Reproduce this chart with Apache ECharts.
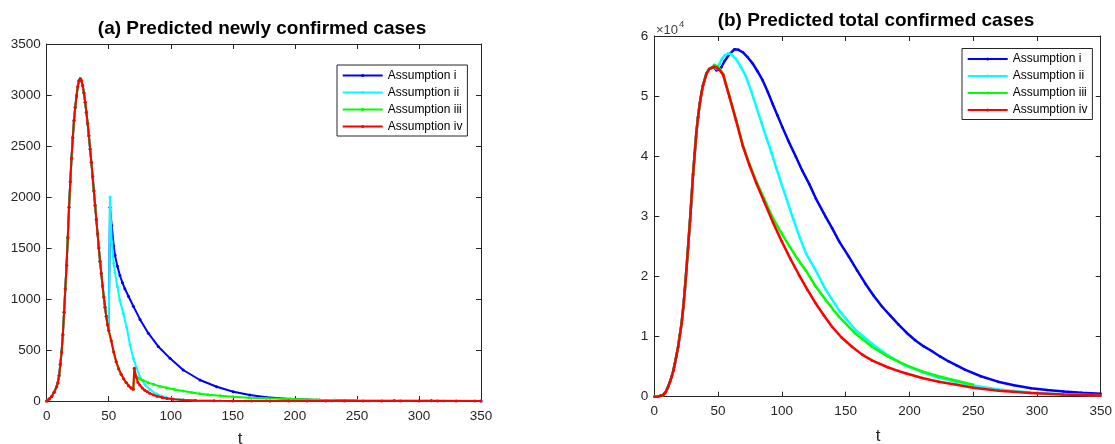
<!DOCTYPE html>
<html><head><meta charset="utf-8">
<script src="https://cdn.jsdelivr.net/npm/echarts@6/dist/echarts.min.js"></script>
<style>html,body{margin:0;padding:0;background:#fff}#c{width:1115px;height:444px}</style>
</head><body><div id="c"></div>
<script>
// ---------- data ----------
const seriesNames = ['Assumption i', 'Assumption ii', 'Assumption iii', 'Assumption iv'];
const xTicks = [0, 50, 100, 150, 200, 250, 300, 350];

// (a) newly confirmed cases: shared early part (t = 0..50)
const newT_early = [0,2,4,6,8,9,10,11,12,13,14,15,16,17,18,19,20,21,22,23,24,25,26,27,28,29,30,31,32,33,34,35,36,37,38,39,40,41,42,43,44,45,46,47,48,49,50];
const newV_early = [0,20,45,85,140,180,250,360,480,650,870,1100,1330,1600,1900,2150,2380,2580,2750,2880,2990,3080,3140,3160,3140,3090,3020,2930,2830,2720,2600,2470,2340,2200,2060,1920,1780,1640,1500,1370,1250,1130,1020,920,830,750,690];
// (a) after t = 50
const newT_i = [51,52.4,54,55,57,59,61,63,66,69.8,75.2,81.9,89.9,99.4,110,123.5,137,150.4,163.8,177,196,220,250,280,310,350];
const newV_i = [1900,1720,1520,1430,1320,1230,1160,1100,1025,930,800,665,535,418,304,206,140,91,59,37,20,10,5,3,2,1];
const newT_ii = [51,52.4,54,55,57,59,61.7,64.5,67.1,69.8,72.5,75.2,79.2,83.2,88.6,96.7,107,120,140,160,180,200,230,260,290,320,350];
const newV_ii = [2000,1560,1350,1260,1120,985,860,720,550,420,320,235,160,110,68,33,15,6,2,1,0.5,0,0,0,0,0,0];
const newT_iii = [52,54,56,58,60,62,64,66,68,69.8,70.6,72,73.5,75,77.8,82,86,91,96.5,103,110,117,123.5,130,140,150,163,177,190,204,218,232,250];
const newV_iii = [590,480,385,315,262,218,182,150,128,114,320,245,225,215,200,180,163,145,130,113,98,84,72,62,51,42,33,26,21,17,13,10,7];
const newT_iv = [52,54,56,58,60,62,64,66,68,69.8,70.6,72,73.5,75,77,79,81,83,86,89,93,97,102,110,120,135,150,165,180,195,210,225,240,255,270,285,300,315,330,345,350];
const newV_iv = [590,480,385,315,262,218,182,150,128,114,320,235,185,157,128,106,90,77,60,47,34,25,17,10,5,2,1,0.5,0,0,0,0,0,0,0,0,0,0,0,0,0];

// (b) total confirmed cases (x 10^4): shared early part
const totT_early = [0,3,5,7,9,10.9,12.3,13.6,15,16.1,17.4,18.7,20,21.4,22.7,23.9,25.2,26.5,28.4,30.4,31.7,33,34.3,35.6,36.9,38.2,40.8,43,45];
const totV_early = [0,0.005,0.015,0.03,0.08,0.17,0.25,0.33,0.44,0.55,0.69,0.83,1.02,1.22,1.48,1.77,2.12,2.49,3.05,3.70,4.05,4.40,4.65,4.87,5.04,5.18,5.37,5.45,5.47];
const totT_i = [47,48.6,50.5,52.5,55,59,62.9,66,69.4,73,77.2,81,85,89,92.8,96.5,100.5,105,111,116,121.4,126.6,134.4,139.5,145,152.5,159,165.5,172,178.5,185,191.5,198,204.5,211,217.5,224,230.5,237,243.5,256,269.4,282,295.4,308,321,335,350];
const totV_i = [5.48,5.43,5.44,5.48,5.58,5.70,5.78,5.77,5.73,5.65,5.54,5.41,5.26,5.07,4.87,4.68,4.48,4.26,3.99,3.76,3.54,3.30,2.99,2.80,2.58,2.33,2.10,1.88,1.68,1.50,1.35,1.20,1.06,0.94,0.84,0.76,0.67,0.59,0.52,0.45,0.34,0.25,0.19,0.14,0.11,0.085,0.065,0.05];
const totT_ii = [47,49,51.2,53,55,57.7,60,64,68,72,76,80,84,88,92,96,100,104,109,114,119,126,134.4,144.7,157.7,170.7,183,196.7,210,222.7,236,250,270,295,320,350];
const totV_ii = [5.49,5.45,5.54,5.62,5.67,5.71,5.70,5.62,5.48,5.32,5.08,4.82,4.56,4.30,4.05,3.78,3.52,3.27,2.95,2.65,2.38,2.12,1.78,1.44,1.11,0.88,0.69,0.52,0.41,0.32,0.25,0.185,0.12,0.07,0.04,0.025];
const totT_iii = [47,49,51,54,59,64,69.4,74.6,80,86,93,100,106,112,118.8,126,134.4,144.7,157.7,170.7,183,196.7,210,222.7,236,250];
const totV_iii = [5.52,5.50,5.46,5.37,5.00,4.62,4.19,3.87,3.58,3.30,2.97,2.71,2.50,2.30,2.10,1.85,1.61,1.33,1.05,0.83,0.67,0.53,0.42,0.34,0.27,0.20];
const totT_iv = [47,49,51,54,59,64,69.4,74.6,80,86,93,100,107,113.6,120,126.6,133,139.5,147,155,163,171,183,191,197,210,223,237,250,270,295,320,350];
const totV_iv = [5.49,5.47,5.44,5.35,4.98,4.60,4.17,3.85,3.55,3.25,2.90,2.58,2.28,2.02,1.78,1.55,1.35,1.16,0.98,0.83,0.70,0.60,0.49,0.43,0.39,0.31,0.25,0.20,0.15,0.10,0.06,0.035,0.02];

// ---------- build ----------
const FONT = '"Liberation Sans", Arial, Helvetica, sans-serif';
const AX = '#262626';
const colors = ['#0000ff', '#00ffff', '#00ff00', '#ff0000'];
function pairs(t, v) { return t.map((x, i) => [x, v[i]]); }
function withEarly(tE, vE, t, v) { return pairs(tE, vE).concat(pairs(t, v)); }

const newData = [
  withEarly(newT_early, newV_early, newT_i, newV_i),
  withEarly(newT_early, newV_early, newT_ii, newV_ii),
  withEarly(newT_early, newV_early, newT_iii, newV_iii),
  withEarly(newT_early, newV_early, newT_iv, newV_iv)
];
const totData = [
  withEarly(totT_early, totV_early, totT_i, totV_i),
  withEarly(totT_early, totV_early, totT_ii, totV_ii),
  withEarly(totT_early, totV_early, totT_iii, totV_iii),
  withEarly(totT_early, totV_early, totT_iv, totV_iv)
];

function mkX(g, pos, labels) {
  return {
    type: 'value', gridIndex: g, position: pos, min: xTicks[0], max: xTicks[xTicks.length - 1], interval: 50,
    axisLine: { show: true, onZero: false, lineStyle: { color: AX, width: 1 } },
    axisTick: { show: true, inside: true, length: 5, lineStyle: { color: AX } },
    axisLabel: { show: labels, color: AX, fontSize: 13.5, margin: 8, fontFamily: FONT },
    splitLine: { show: false }
  };
}
function mkY(g, pos, labels, max, interval) {
  return {
    type: 'value', gridIndex: g, position: pos, min: 0, max: max, interval: interval,
    axisLine: { show: true, onZero: false, lineStyle: { color: AX, width: 1 } },
    axisTick: { show: true, inside: true, length: 5, lineStyle: { color: AX } },
    axisLabel: { show: labels, color: AX, fontSize: 13.5, margin: 6, fontFamily: FONT, formatter: v => String(v) },
    splitLine: { show: false }
  };
}
function mkSeries(data, i, xi, yi, sym, width) {
  return {
    type: 'line', name: seriesNames[i], xAxisIndex: xi, yAxisIndex: yi, data: data,
    symbol: 'circle', symbolSize: sym, showSymbol: true, showAllSymbol: true,
    smooth: false,
    lineStyle: { width: width, color: colors[i] }, itemStyle: { color: colors[i] },
    z: 2 + i, silent: true, animation: false
  };
}
function mkLegend(left, top) {
  return {
    data: seriesNames, orient: 'vertical', left: left, top: top,
    itemWidth: 40, itemHeight: 4, itemGap: 0,
    padding: [2, 5, 1, 4.7],
    backgroundColor: '#ffffff', borderColor: AX, borderWidth: 1, borderRadius: 0,
    textStyle: { color: '#000', fontSize: 12, fontFamily: FONT, lineHeight: 17 },
    selectedMode: false
  };
}
function txt(text, x, y, size, weight, color, align) {
  return {
    type: 'text', x: x, y: y, silent: true,
    style: {
      text: text, fontSize: size, fontWeight: weight, fontFamily: FONT, fill: color,
      align: align || 'center', verticalAlign: 'middle', textAlign: align || 'center', textVerticalAlign: 'middle'
    }
  };
}

const series = [];
for (let i = 0; i < 4; i++) series.push(mkSeries(newData[i], i, 0, 0, 3, 2));
for (let i = 0; i < 4; i++) series.push(mkSeries(totData[i], i, 2, 2, 2.5, 2.5));

const option = {
  animation: false,
  backgroundColor: '#ffffff',
  textStyle: { fontFamily: FONT },
  grid: [
    { left: 46.7, top: 44, width: 434.3, height: 357 },
    { left: 654.3, top: 36, width: 449, height: 360.7 }
  ],
  xAxis: [mkX(0, 'bottom', true), mkX(0, 'top', false), mkX(1, 'bottom', true), mkX(1, 'top', false)],
  yAxis: [mkY(0, 'left', true, 3500, 500), mkY(0, 'right', false, 3500, 500), mkY(1, 'left', true, 6, 1), mkY(1, 'right', false, 6, 1)],
  legend: [mkLegend(337, 65), mkLegend(962, 48.5)],
  graphic: [
    txt('(a) Predicted newly confirmed cases', 262, 29, 19, 'bold', '#000'),
    txt('(b) Predicted total confirmed cases', 876, 21, 19, 'bold', '#000'),
    txt('t', 240, 439, 17, 'normal', AX),
    txt('t', 878, 436, 17, 'normal', AX),
    txt('×10', 656, 30, 13, 'normal', '#404040', 'left'),
    txt('4', 679, 24, 9.5, 'normal', '#404040', 'left')
  ],
  series: series
};

const chart = echarts.init(document.getElementById('c'), null, { renderer: 'canvas' });
chart.setOption(option);
</script>
</body></html>
